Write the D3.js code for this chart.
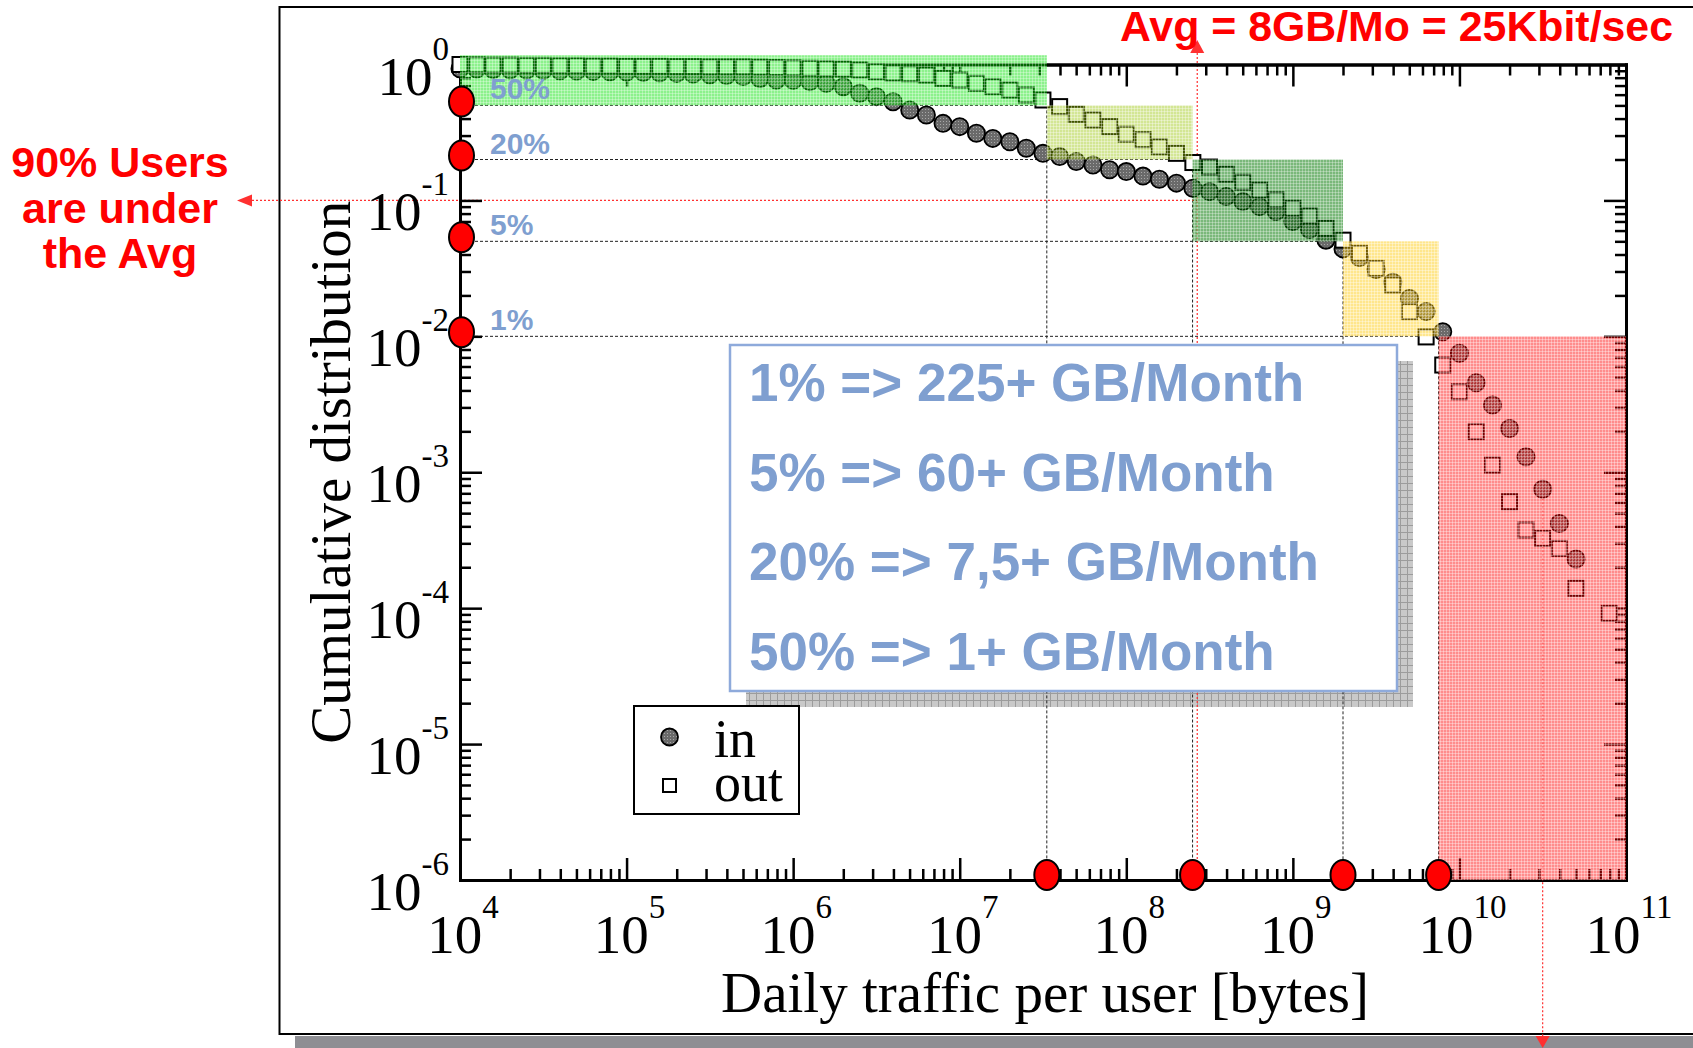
<!DOCTYPE html>
<html>
<head>
<meta charset="utf-8">
<script src="https://cdn.jsdelivr.net/npm/d3@7"></script>
<style>
  html, body { margin: 0; padding: 0; background: #fff; }
  svg { display: block; }
</style>
</head>
<body>
<svg id="chart" width="1693" height="1048"></svg>
<script>
// ---------- data ----------
// Daily traffic bins (bytes), ten per decade
const trafficBins = [
  1.00e4, 1.26e4, 1.58e4, 2.00e4, 2.51e4, 3.16e4, 3.98e4, 5.01e4, 6.31e4, 7.94e4,
  1.00e5, 1.26e5, 1.58e5, 2.00e5, 2.51e5, 3.16e5, 3.98e5, 5.01e5, 6.31e5, 7.94e5,
  1.00e6, 1.26e6, 1.58e6, 2.00e6, 2.51e6, 3.16e6, 3.98e6, 5.01e6, 6.31e6, 7.94e6,
  1.00e7, 1.26e7, 1.58e7, 2.00e7, 2.51e7, 3.16e7, 3.98e7, 5.01e7, 6.31e7, 7.94e7,
  1.00e8, 1.26e8, 1.58e8, 2.00e8, 2.51e8, 3.16e8, 3.98e8, 5.01e8, 6.31e8, 7.94e8,
  1.00e9, 1.26e9, 1.58e9, 2.00e9, 2.51e9, 3.16e9, 3.98e9, 5.01e9, 6.31e9, 7.94e9,
  1.00e10, 1.26e10, 1.58e10, 2.00e10, 2.51e10, 3.16e10, 3.98e10, 5.01e10, 6.31e10, 7.94e10
];

// Complementary cumulative share of users, incoming traffic
const inShare = [
  0.93, 0.925, 0.92, 0.915, 0.91, 0.905, 0.90, 0.895, 0.89, 0.885,
  0.88, 0.875, 0.87, 0.86, 0.85, 0.84, 0.83, 0.815, 0.79, 0.77,
  0.765, 0.748, 0.727, 0.687, 0.614, 0.58, 0.532, 0.462, 0.425, 0.369,
  0.349, 0.312, 0.286, 0.27, 0.242, 0.222, 0.21, 0.193, 0.182, 0.168,
  0.163, 0.151, 0.143, 0.134, 0.123, 0.116, 0.107, 0.098, 0.090, 0.083,
  0.070, 0.061, 0.051, 0.044, 0.038, 0.031, 0.025, 0.019, 0.0152, 0.0108,
  0.0075, 0.00456, 0.00312, 0.0021, 0.0013, 0.00075, 0.00042, 0.00023, null, null
];

// Complementary cumulative share of users, outgoing traffic
const outShare = [
  1.0, 0.995, 0.99, 0.99, 0.985, 0.985, 0.98, 0.98, 0.975, 0.975,
  0.97, 0.97, 0.97, 0.965, 0.965, 0.96, 0.96, 0.96, 0.955, 0.95,
  0.945, 0.937, 0.93, 0.925, 0.911, 0.885, 0.865, 0.855, 0.837, 0.791,
  0.769, 0.727, 0.687, 0.649, 0.597, 0.548, 0.49, 0.43, 0.391, 0.349,
  0.307, 0.28, 0.248, 0.222, 0.19, 0.176, 0.156, 0.136, 0.119, 0.101,
  0.0875, 0.077, 0.0623, 0.051, 0.0408, 0.0316, 0.0239, 0.0152, 0.0099, 0.00615,
  0.00391, 0.00199, 0.00113, 0.000607, 0.000376, 0.000326, 0.000275, 0.00014, null, 0.0000916
];

// Heavy-user thresholds
const pctLevels = [0.5, 0.2, 0.05, 0.01];
const pctLabels = ['50%', '20%', '5%', '1%'];
const monthlyGB = [1, 7.5, 60, 225];
const daysPerMonth = 30;

// Average user
const avgMonthlyGB = 8;
const avgShareAbove = 0.1;
const avgTitle = 'Avg = 8GB/Mo = 25Kbit/sec';
const avgNote = ['90% Users', 'are under', 'the Avg'];
const tailBin = 3.16e10;

// Axis ticks
const xTickValues = [1e4, 1e5, 1e6, 1e7, 1e8, 1e9, 1e10, 1e11];
const xTickExps = ['4', '5', '6', '7', '8', '9', '10', '11'];
const yTickValues = [1e-6, 1e-5, 1e-4, 1e-3, 1e-2, 1e-1, 1];
const yTickExps = ['-6', '-5', '-4', '-3', '-2', '-1', '0'];
const seriesNames = ['in', 'out'];

// ---------- layout ----------
const W = 1693, H = 1048;
const plot = { left: 460, right: 1626, top: 64.5, bottom: 880 };
const serif = '"Liberation Serif", "Times New Roman", serif';
const sans = '"Liberation Sans", Arial, sans-serif';
const boxBlue = '#7f9fd0';

const svg = d3.select('#chart');
const x = d3.scaleLog().domain([1e4, 1e11]).range([plot.left, plot.right]);
const y = d3.scaleLog().domain([1e-6, 1]).range([plot.bottom, plot.top]);

const toDaily = gb => gb * 1e9 / daysPerMonth;
const thrBytes = monthlyGB.map(toDaily);
const avgBytes = toDaily(avgMonthlyGB);

// ---------- patterns ----------
const defs = svg.append('defs');
function mesh(id, color, alpha, step, lineColor, lineAlpha) {
  const p = defs.append('pattern').attr('id', id)
    .attr('width', step).attr('height', step).attr('patternUnits', 'userSpaceOnUse');
  p.append('rect').attr('width', step).attr('height', step)
    .attr('fill', color).attr('fill-opacity', alpha);
  p.append('path').attr('d', `M0,0.5H${step}M0.5,0V${step}`)
    .attr('stroke', lineColor).attr('stroke-opacity', lineAlpha).attr('stroke-width', 1);
}
mesh('m-green', 'rgb(0,225,0)', 0.45, 3, '#fff', 0.3);
mesh('m-olive', 'rgb(150,195,0)', 0.42, 3, '#fff', 0.35);
mesh('m-dgreen', 'rgb(0,120,0)', 0.52, 3, '#fff', 0.3);
mesh('m-yellow', 'rgb(255,200,0)', 0.45, 3, '#fff', 0.35);
mesh('m-red', 'rgb(255,0,0)', 0.45, 3, '#fff', 0.35);
mesh('m-shadow', '#c9c9c9', 1, 7, '#9c9c9c', 1);
const dither = defs.append('pattern').attr('id', 'dither')
  .attr('width', 3).attr('height', 3).attr('patternUnits', 'userSpaceOnUse');
dither.append('rect').attr('width', 3).attr('height', 3).attr('fill', '#6a6a6a');
dither.append('rect').attr('x', 1).attr('y', 1).attr('width', 1).attr('height', 1).attr('fill', '#a8a8a8');
const regionFills = ['url(#m-green)', 'url(#m-olive)', 'url(#m-dgreen)', 'url(#m-yellow)', 'url(#m-red)'];

// ---------- frame ----------
svg.append('rect').attr('x', 295).attr('y', 1036).attr('width', W - 295).attr('height', 12).attr('fill', '#8e8e93');
svg.append('rect').attr('x', 279.5).attr('y', 7).attr('width', W).attr('height', 1027)
  .attr('fill', '#fff').attr('stroke', '#000').attr('stroke-width', 2);

// ---------- text-box shadow ----------
const box = { x: 730, y: 345, w: 667, h: 346 };
svg.append('rect').attr('x', box.x + 16).attr('y', box.y + 16).attr('width', box.w).attr('height', box.h)
  .attr('fill', 'url(#m-shadow)');

// ---------- guide lines ----------
const guides = svg.append('g').attr('stroke', '#222').attr('stroke-width', 1).attr('stroke-dasharray', '3,2').attr('fill', 'none');
pctLevels.forEach((p, i) => {
  guides.append('line').attr('x1', x(1e4)).attr('x2', x(thrBytes[i])).attr('y1', y(p)).attr('y2', y(p));
  guides.append('line').attr('x1', x(thrBytes[i])).attr('x2', x(thrBytes[i])).attr('y1', y(p)).attr('y2', y(1e-6));
});

// ---------- average markers ----------
const red = '#ff3030';
const avgG = svg.append('g');
const ax = x(avgBytes), ay = y(avgShareAbove);
avgG.append('line').attr('x1', ax).attr('x2', ax).attr('y1', 53).attr('y2', y(1e-6))
  .attr('stroke', red).attr('stroke-width', 1.2).attr('stroke-dasharray', '2,2');
avgG.append('path').attr('d', `M${ax},40L${ax - 7},53L${ax + 7},53Z`).attr('fill', red);
avgG.append('line').attr('x1', 252).attr('x2', ax).attr('y1', ay).attr('y2', ay)
  .attr('stroke', red).attr('stroke-width', 1.2).attr('stroke-dasharray', '2,2');
avgG.append('path').attr('d', `M237,${ay}L252,${ay - 6}L252,${ay + 6}Z`).attr('fill', red);

// ---------- axes ----------
function styleAxis(g) {
  g.select('.domain').attr('stroke-width', 3).attr('stroke-linecap', 'square');
  g.selectAll('.tick line').attr('stroke-width', 2.5);
  g.selectAll('.tick text').remove();
}
const xMinor = x.ticks().filter(v => !xTickValues.some(t => Math.abs(t - v) / t < 1e-9));
const yMinor = y.ticks().filter(v => !yTickValues.some(t => Math.abs(t - v) / t < 1e-9));
const axes = [
  [d3.axisTop(x), `translate(0,${plot.bottom})`, xTickValues, xMinor],
  [d3.axisBottom(x), `translate(0,${plot.top})`, xTickValues, xMinor],
  [d3.axisRight(y), `translate(${plot.left},0)`, yTickValues, yMinor],
  [d3.axisLeft(y), `translate(${plot.right},0)`, yTickValues, yMinor]
];
axes.forEach(([gen, tr, major, minor]) => {
  svg.append('g').attr('transform', tr)
    .call(gen.tickValues(minor).tickSize(11).tickSizeOuter(0).tickFormat(''))
    .call(styleAxis);
  svg.append('g').attr('transform', tr)
    .call(gen.tickValues(major).tickSize(22).tickSizeOuter(0).tickFormat(''))
    .call(styleAxis);
});

// ---------- data points ----------
const inPts = trafficBins.map((b, i) => ({ b, v: inShare[i] })).filter(d => d.v != null);
const outPts = trafficBins.map((b, i) => ({ b, v: outShare[i] })).filter(d => d.v != null);
svg.append('g').selectAll('circle').data(inPts).join('circle')
  .attr('cx', d => x(d.b)).attr('cy', d => y(d.v)).attr('r', 8.6)
  .attr('fill', 'url(#dither)').attr('stroke', '#000').attr('stroke-width', 1.8);
svg.append('g').selectAll('rect').data(outPts).join('rect')
  .attr('x', d => x(d.b) - 7.5).attr('y', d => y(d.v) - 7.5).attr('width', 15).attr('height', 15)
  .attr('fill', '#fff').attr('stroke', '#000').attr('stroke-width', 2);

// tail marker dropping from the heavy-user point
const tailPt = inPts.find(d => Math.abs(d.b - tailBin) / tailBin < 1e-6);
const tx = x(tailPt.b);
svg.append('line').attr('x1', tx).attr('x2', tx).attr('y1', y(tailPt.v) + 9).attr('y2', 1037)
  .attr('stroke', red).attr('stroke-width', 1.2).attr('stroke-dasharray', '2,2');
svg.append('path').attr('d', `M${tx},1048L${tx - 7},1036L${tx + 7},1036Z`).attr('fill', red);

// ---------- shaded bands ----------
const bandTop = 1.17;
const xEdges = [1e4, ...thrBytes, 1e11];
const yEdges = [bandTop, ...pctLevels, 1e-6];
const bands = regionFills.map((f, i) => ({ x0: xEdges[i], x1: xEdges[i + 1], y0: yEdges[i], y1: yEdges[i + 1], f }));
svg.append('g').selectAll('rect').data(bands).join('rect')
  .attr('x', d => x(d.x0)).attr('y', d => y(d.y0))
  .attr('width', d => x(d.x1) - x(d.x0)).attr('height', d => y(d.y1) - y(d.y0))
  .attr('fill', d => d.f);

// ---------- tick labels ----------
function powLabel(px, py, exp, anchor) {
  const t = svg.append('text').attr('x', px).attr('y', py).attr('text-anchor', anchor)
    .attr('font-family', serif).attr('font-size', 55).attr('fill', '#000');
  t.append('tspan').text('10');
  t.append('tspan').attr('dy', -35).attr('font-size', 33).text(exp);
}
yTickValues.forEach((v, i) => powLabel(449, y(v) + 30, yTickExps[i], 'end'));
xTickValues.forEach((v, i) => powLabel(x(v) + 3, 953, xTickExps[i], 'middle'));

// axis titles
svg.append('text').attr('transform', `translate(350,${(plot.top + plot.bottom) / 2}) rotate(-90)`)
  .attr('text-anchor', 'middle').attr('font-family', serif).attr('font-size', 57)
  .text('Cumulative distribution');
svg.append('text').attr('x', 1045).attr('y', 1012)
  .attr('text-anchor', 'middle').attr('font-family', serif).attr('font-size', 57)
  .text('Daily traffic per user [bytes]');

// ---------- percent labels and axis markers ----------
pctLevels.forEach((p, i) => {
  svg.append('text').attr('x', 490).attr('y', y(p) - 6)
    .attr('font-family', sans).attr('font-weight', 'bold').attr('font-size', 30)
    .attr('fill', boxBlue).text(pctLabels[i]);
});
const dotStyle = s => s.attr('rx', 12.5).attr('ry', 15).attr('fill', '#ff0000').attr('stroke', '#000').attr('stroke-width', 2);
svg.append('g').selectAll('ellipse').data(pctLevels).join('ellipse')
  .attr('cx', x(1e4) + 1.5).attr('cy', d => y(d) - 4).call(dotStyle);
svg.append('g').selectAll('ellipse').data(thrBytes).join('ellipse')
  .attr('cx', d => x(d)).attr('cy', y(1e-6) - 5).call(dotStyle);

// ---------- summary box ----------
svg.append('rect').attr('x', box.x).attr('y', box.y).attr('width', box.w).attr('height', box.h)
  .attr('fill', '#fff').attr('stroke', '#8eaadb').attr('stroke-width', 2.5);
const boxLines = pctLabels.map((p, i) => `${p} => ${String(monthlyGB[i]).replace('.', ',')}+ GB/Month`).reverse();
boxLines.forEach((s, i) => {
  svg.append('text').attr('x', 749).attr('y', 401 + i * 89.5)
    .attr('font-family', sans).attr('font-weight', 'bold').attr('font-size', 53)
    .attr('fill', boxBlue).text(s);
});

// ---------- legend ----------
const lg = svg.append('g');
lg.append('rect').attr('x', 634).attr('y', 706).attr('width', 165).attr('height', 108)
  .attr('fill', '#fff').attr('stroke', '#000').attr('stroke-width', 2);
lg.append('circle').attr('cx', 669.5).attr('cy', 737).attr('r', 8.5)
  .attr('fill', 'url(#dither)').attr('stroke', '#000').attr('stroke-width', 1.8);
lg.append('rect').attr('x', 663).attr('y', 779).attr('width', 13).attr('height', 13)
  .attr('fill', 'none').attr('stroke', '#000').attr('stroke-width', 2);
lg.append('text').attr('x', 714).attr('y', 757).attr('font-family', serif).attr('font-size', 54).text(seriesNames[0]);
lg.append('text').attr('x', 714).attr('y', 801).attr('font-family', serif).attr('font-size', 54).text(seriesNames[1]);

// ---------- average annotations ----------
svg.append('text').attr('x', 1120).attr('y', 41)
  .attr('font-family', sans).attr('font-weight', 'bold').attr('font-size', 42)
  .attr('textLength', 553).attr('lengthAdjust', 'spacingAndGlyphs')
  .attr('fill', '#ff0000').text(avgTitle);
avgNote.forEach((s, i) => {
  svg.append('text').attr('x', 120).attr('y', 177 + i * 45.5).attr('text-anchor', 'middle')
    .attr('font-family', sans).attr('font-weight', 'bold').attr('font-size', 43)
    .attr('fill', '#ff0000').text(s);
});
</script>
</body>
</html>
